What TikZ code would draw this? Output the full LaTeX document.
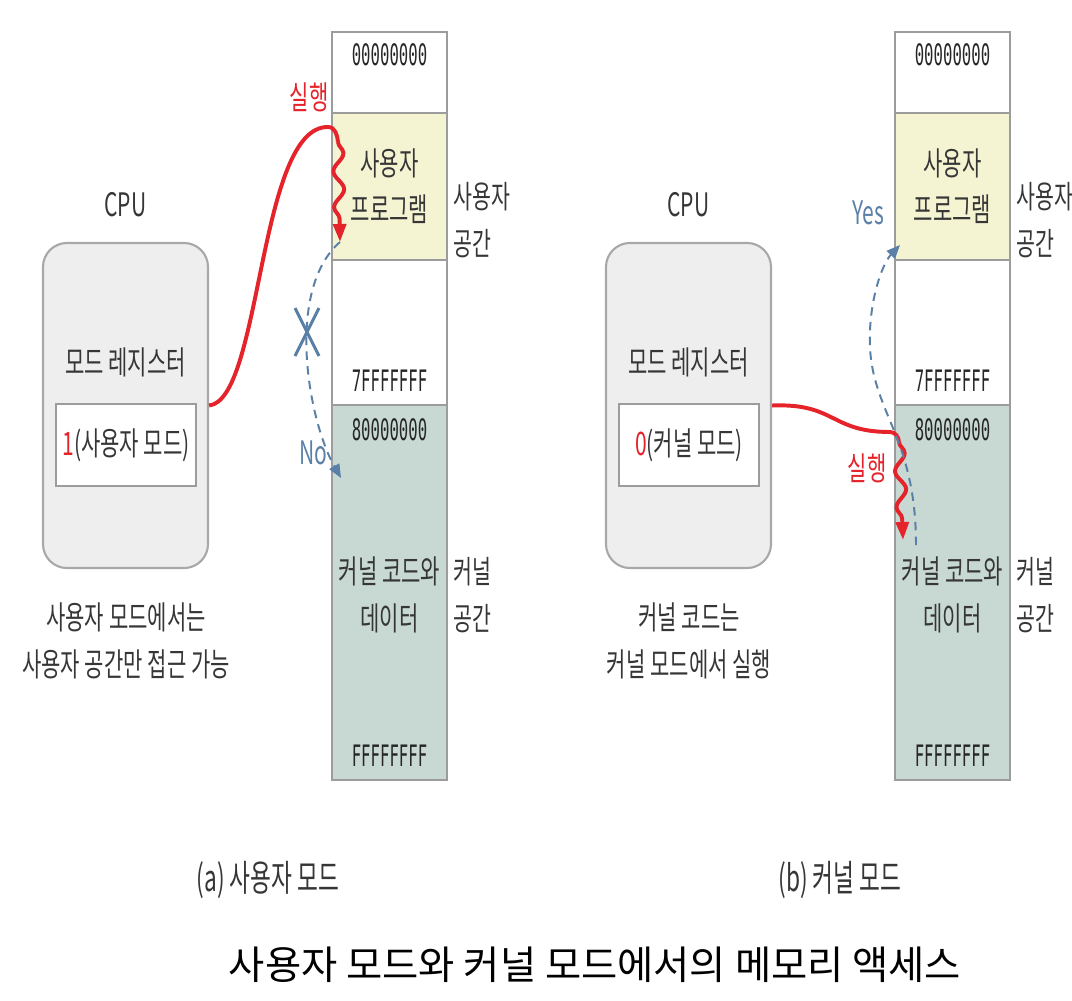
\documentclass[tikz,border=0pt]{standalone}
\usepackage{fontspec}
\newfontfamily\kr[FakeStretch=0.65]{Noto Sans CJK KR}
\newfontfamily\krcap[FakeStretch=0.62]{Noto Sans CJK KR}
\newfontfamily\krtitle{Noto Sans CJK KR}
\newfontfamily\hexfont[FakeStretch=0.53]{DejaVu Sans Mono}
\usetikzlibrary{arrows.meta,decorations.pathmorphing,positioning}

\definecolor{txtgray}{HTML}{363636}
\definecolor{cellline}{HTML}{9C9C9C}
\definecolor{cpuline}{HTML}{A8A8A8}
\definecolor{userfill}{HTML}{F4F4D3}
\definecolor{kernfill}{HTML}{C8D8D2}
\definecolor{cpufill}{HTML}{EEEEEE}
\definecolor{runred}{HTML}{E5232B}
\definecolor{accblue}{HTML}{5B80A8}

\tikzset{
  cell/.style={draw=cellline, line width=2pt, inner sep=0pt, minimum width=2.875cm},
  cpubox/.style={draw=cpuline, fill=cpufill, line width=1.5pt, rounded corners=0.6cm,
    minimum width=4.125cm, minimum height=8.125cm},
  regbox/.style={draw=cellline, fill=white, line width=2pt, minimum width=3.5cm, minimum height=2.05cm},
  txt/.style={text=txtgray, font=\kr\fontsize{23}{33}\selectfont, align=center, inner sep=0pt},
  sidetxt/.style={txt, anchor=west, align=left, font=\kr\fontsize{22.5}{33}\selectfont},
  hex/.style={text=black!85, font=\hexfont\fontsize{21}{24}\selectfont, inner sep=0pt},
  redtxt/.style={txt, text=runred},
  bluetxt/.style={txt, text=accblue},
  captxt/.style={txt, font=\krcap\fontsize{26}{30}\selectfont},
  titletxt/.style={text=black, font=\krtitle\fontsize{28}{32}\selectfont, inner sep=0pt},
  runline/.style={runred, line width=2.8pt},
  wavy/.style={runline, decorate,
    decoration={snake, amplitude=0.13cm, segment length=0.9cm, post length=0.45cm},
    -{Triangle[length=0.45cm,width=0.32cm]}},
  probe/.style={accblue, line width=1.4pt, dash pattern=on 6pt off 4.5pt,
    -{Triangle[length=0.34cm,width=0.28cm]}},
  nomark/.style={accblue, line width=2.2pt}
}

\begin{document}
\begin{tikzpicture}[x=0.025cm,y=-0.025cm]
  \useasboundingbox (0,0) rectangle (1072,1000);

  % both panels: CPU, mode register and memory map
  \foreach \p/\dx/\bit/\regtxt/\note in {
      a/0/1/사용자 모드/{사용자 모드에서는\\사용자 공간만 접근 가능},
      b/563/0/커널 모드/{커널 코드는\\커널 모드에서 실행}}{
    \begin{scope}[xshift=\dx*0.025cm]
      % CPU
      \node[txt] (cpulbl-\p) at (125.5,205) {CPU};
      \node[cpubox] (cpu-\p) at (125.5,405.5) {};
      \node[txt] (modelbl-\p) at (125.5,362) {모드 레지스터};
      \node[regbox] (reg-\p) at (126,445) {};
      \node[txt] (regval-\p) at (reg-\p) {\textcolor{runred}{\bit}(\regtxt)};
      \node[txt] (note-\p) at (126,641) {\note};
      % memory map
      \node[cell, minimum height=2.025cm] (top-\p) at (389.5,72.5) {};
      \node[cell, fill=userfill, minimum height=3.675cm] (user-\p) at (389.5,186.5) {};
      \node[cell, minimum height=3.625cm] (gap-\p) at (389.5,332.5) {};
      \node[cell, fill=kernfill, minimum height=9.375cm] (kern-\p) at (389.5,592.5) {};
      \node[hex] (a00-\p) at (389.5,55) {00000000};
      \node[txt] (prog-\p) at (389.5,186) {사용자\\프로그램};
      \node[hex] (a7f-\p) at (389.5,381) {7FFFFFFF};
      \node[hex] (a80-\p) at (389.5,430) {80000000};
      \node[txt] (kcode-\p) at (389.5,595) {커널 코드와\\데이터};
      \node[hex] (aff-\p) at (389.5,756) {FFFFFFFF};
      \node[sidetxt] (uspace-\p) at (453,220) {사용자\\공간};
      \node[sidetxt] (kspace-\p) at (453,595) {커널\\공간};
    \end{scope}
  }

  % (a) user mode: access to kernel space refused
  \coordinate (run-a) at (338,142);
  \coordinate (hit-a) at (340,242);
  \coordinate (miss-a) at (341,478);
  \coordinate (xm) at (307,332);
  \draw[runline] (cpu-a.east) .. controls (262,400) and (258,126) .. (328,127) to[out=0,in=95] (run-a);
  \draw[wavy] (run-a) -- (hit-a);
  \draw[probe] (hit-a) .. controls (285,290) and (308,420) .. (miss-a);
  \draw[nomark] (xm) ++(-12,-24) -- ++(24,48) (xm) ++(12,-24) -- ++(-24,48);
  \node[redtxt] (runlbl-a) at (309,97) {실행};
  \node[bluetxt] (nolbl) at (313,453) {No};

  % (b) kernel mode: user space may be reached
  \coordinate (run-b) at (899,442);
  \coordinate (hit-b) at (903,540);
  \coordinate (back-b) at (916,545);
  \coordinate (ok-b) at (900,245);
  \draw[runline] (cpu-b.east) .. controls (836,403) and (830,432) .. (890,432) to[out=0,in=95] (run-b);
  \draw[wavy] (run-b) -- (hit-b);
  \draw[probe] (back-b) .. controls (916,430) and (866,410) .. (870,330)
    .. controls (872,290) and (884,262) .. (ok-b);
  \node[redtxt] (runlbl-b) at (867,468) {실행};
  \node[bluetxt] (yeslbl) at (868,213) {Yes};

  % captions
  \node[captxt] (cap-a) at (268,880) {(a) 사용자 모드};
  \node[captxt] (cap-b) at (840,880) {(b) 커널 모드};
  \node[titletxt] (title) at (595,965) {사용자 모드와 커널 모드에서의 메모리 액세스};
\end{tikzpicture}
\end{document}
